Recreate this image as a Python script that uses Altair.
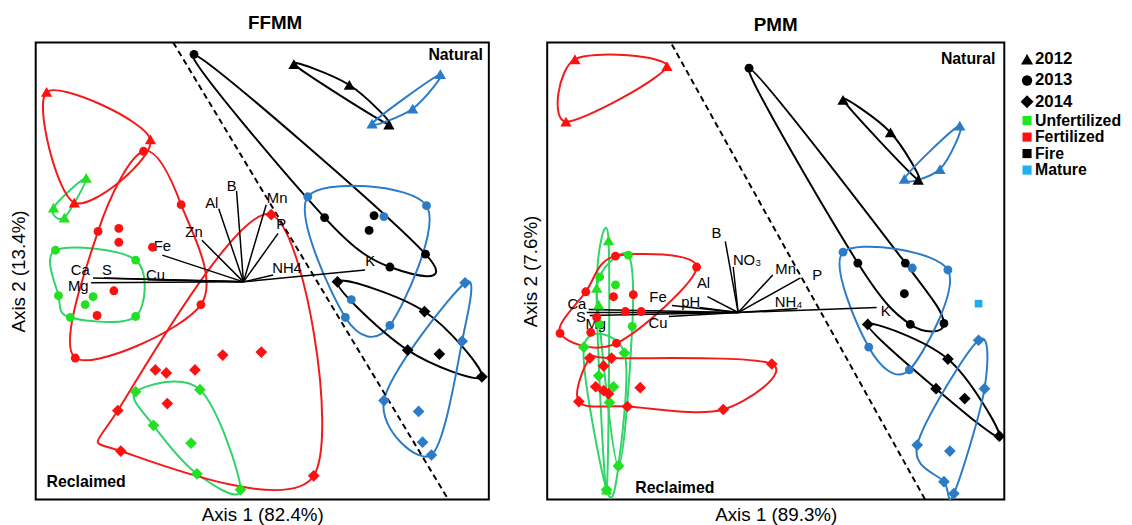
import altair as alt
import pandas as pd

FONT = "Liberation Sans"

TREATMENTS = ["Unfertilized", "Fertilized", "Fire", "Mature"]
YEARS = ["2012", "2013", "2014"]
POINT_COLORS = ["#22e022", "#ff1010", "#000000", "#2b7bc6"]
HULL_COLORS = ["#30d468", "#f21a1a", "#000000", "#2b7bc6"]
YEAR_SHAPES = ["triangle-up", "circle", "diamond"]
YEAR_SIZES = [130, 80, 140]
LEGEND_SIZES = [150, 110, 170]

# ---------------- FFMM sample scores (picture units: x right, y down) ----------------
FF_UNF_2012 = [(86, 172), (53, 202), (64, 212)]
FF_FER_2012 = [(46, 85), (151, 133), (74, 197)]
FF_FIR_2012 = [(296, 57), (352, 78), (392, 118)]
FF_MAT_2012 = [(444, 67), (416, 102), (375, 117)]
FF_UNF_2013 = [(55, 245), (136, 255), (58, 291), (70, 313), (136, 312), (93, 292), (85, 300)]
FF_FER_2013 = [(144, 145), (182, 199), (98, 226), (119, 223), (119, 237), (153, 242),
               (202, 300), (75, 354), (114, 286), (97, 311)]
FF_FIR_2013 = [(195, 47), (327, 212), (377, 210), (372, 225), (429, 249), (393, 262)]
FF_MAT_2013 = [(310, 191), (430, 200), (387, 211), (354, 295), (348, 313), (393, 321)]
FF_UNF_2014 = [(136, 388), (201, 386), (154, 422), (192, 440), (198, 471), (242, 487)]
FF_FER_2014 = [(273, 209), (224, 351), (263, 348), (156, 366), (167, 369), (196, 366),
               (118, 407), (168, 400), (121, 448), (316, 473)]
FF_FIR_2014 = [(340, 277), (428, 307), (411, 346), (443, 350), (486, 373)]
FF_MAT_2014 = [(469, 278), (466, 337), (387, 397), (422, 408), (426, 439), (435, 452)]

FF_VEC_NAMES = ["Ca", "S", "Mg", "Cu", "Fe", "Zn", "Al", "B", "Mn", "P", "NH4", "K"]
FF_VEC_ENDS = [(93, 273), (104, 273), (91, 278), (148, 275), (163, 250), (203, 235),
               (220, 203), (238, 185), (268, 199), (280, 228), (275, 270), (368, 265)]
FF_VEC_LABELS = [(80, 265), (107, 265), (78, 281), (156, 270), (163, 241), (195, 227),
                 (213, 197), (233, 180), (279, 192), (283, 219), (289, 263), (373, 256)]
FF_ORIGIN = (245, 277)
FF_DASH = [(174, 35), (452, 497)]

# ---------------- PMM sample scores ----------------
PM_UNF_2012 = [(612, 235), (600, 283), (602, 300), (610, 487)]
PM_FER_2012 = [(578, 52), (671, 59), (569, 115)]
PM_FIR_2012 = [(849, 93), (897, 126), (925, 174)]
PM_MAT_2012 = [(967, 119), (947, 163), (911, 173)]
PM_UNF_2013 = [(632, 250), (603, 272), (619, 280), (603, 320), (636, 322), (622, 463)]
PM_FER_2013 = [(619, 251), (701, 262), (589, 287), (617, 292), (637, 290), (600, 313),
               (629, 307), (645, 307), (563, 329), (594, 328), (620, 339)]
PM_FIR_2013 = [(754, 61), (864, 258), (912, 258), (911, 289), (917, 320), (951, 319)]
PM_MAT_2013 = [(849, 247), (955, 265), (919, 263), (875, 343), (916, 366)]
PM_UNF_2014 = [(587, 343), (628, 349), (602, 372), (617, 383), (613, 399), (622, 463), (610, 487)]
PM_FER_2014 = [(593, 354), (607, 362), (615, 354), (777, 360), (599, 383), (607, 387),
               (612, 390), (644, 384), (582, 398), (631, 403), (728, 406)]
PM_FIR_2014 = [(874, 320), (955, 355), (943, 385), (972, 395), (1007, 433)]
PM_MAT_2014 = [(986, 336), (992, 385), (924, 442), (957, 448), (951, 479), (961, 491)]
PM_MAT_OTHER = [(986, 299)]

PM_VEC_NAMES = ["Ca", "S", "Mg", "Cu", "Fe", "pH", "Al", "B", "NO\u2083", "Mn", "P", "NH\u2084", "K"]
PM_VEC_ENDS = [(592, 305), (590, 308), (593, 311), (673, 312), (676, 301), (704, 303),
               (712, 292), (730, 236), (738, 262), (778, 270), (806, 273), (803, 304), (883, 303)]
PM_VEC_LABELS = [(580, 299), (584, 313), (599, 320), (662, 319), (662, 292), (695, 297),
                 (708, 278), (721, 228), (752, 255), (791, 264), (823, 270), (794, 297), (892, 307)]
PM_ORIGIN = (743, 308)
PM_DASH = [(676, 37), (932, 497)]

LEGEND_TREAT_COLORS = ["#1ee81e", "#ff1010", "#000000", "#1fb0ef"]


def convex_hull(points):
    pts = sorted(set(points))
    if len(pts) <= 2:
        return pts

    def cross(o, a, b):
        return (a[0] - o[0]) * (b[1] - o[1]) - (a[1] - o[1]) * (b[0] - o[0])

    lower, upper = [], []
    for p in pts:
        while len(lower) >= 2 and cross(lower[-2], lower[-1], p) <= 0:
            lower.pop()
        lower.append(p)
    for p in reversed(pts):
        while len(upper) >= 2 and cross(upper[-2], upper[-1], p) <= 0:
            upper.pop()
        upper.append(p)
    return lower[:-1] + upper[:-1]


def panel(groups, vec_names, vec_ends, vec_labels, origin, dash, natural, reclaimed,
          xdom, ydom, width, height, title, title_dx, xtitle, ytitle, extra=None):
    pts, hulls = [], []
    for treat, year, plist in groups:
        gid = treat + "-" + year
        for (px, py) in plist:
            pts.append(dict(x=px, y=py, treatment=treat, year=year))
        for i, (px, py) in enumerate(convex_hull(plist)):
            hulls.append(dict(x=px, y=py, treatment=treat, group=gid, idx=i))
    pts = pd.DataFrame(pts)
    hulls = pd.DataFrame(hulls)
    vecs = pd.DataFrame(dict(name=vec_names,
                             x0=[origin[0]] * len(vec_names), y0=[origin[1]] * len(vec_names),
                             x1=[e[0] for e in vec_ends], y1=[e[1] for e in vec_ends],
                             lx=[l[0] for l in vec_labels], ly=[l[1] for l in vec_labels]))
    dash_df = pd.DataFrame(dict(x=[d[0] for d in dash], y=[d[1] for d in dash]))

    xs = alt.Scale(domain=xdom, nice=False, zero=False)
    ys = alt.Scale(domain=ydom, nice=False, zero=False)
    common_axis = dict(ticks=False, labels=False, domain=False, grid=False,
                       titleFont=FONT, titleFontSize=19, titleFontWeight="normal",
                       titleColor="black")
    xa = alt.Axis(title=xtitle, titlePadding=6, **common_axis)
    ya = alt.Axis(title=ytitle, titlePadding=7, **common_axis)

    def X(f):
        return alt.X(f, type="quantitative", scale=xs, axis=xa)

    def Y(f):
        return alt.Y(f, type="quantitative", scale=ys, axis=ya)

    hull_layer = alt.Chart(hulls).mark_line(interpolate="cardinal-closed", strokeWidth=2).encode(
        x=X("x"), y=Y("y"),
        stroke=alt.Stroke("treatment:N", scale=alt.Scale(domain=TREATMENTS, range=HULL_COLORS), legend=None),
        detail="group:N", order=alt.Order("idx:Q"))

    dash_layer = alt.Chart(dash_df).mark_line(color="black", strokeWidth=2, strokeDash=[6, 4]).encode(
        x=X("x"), y=Y("y"))

    vec_layer = alt.Chart(vecs).mark_rule(color="black", strokeWidth=1.5).encode(
        x=X("x0"), y=Y("y0"), x2="x1", y2="y1")

    vec_text = alt.Chart(vecs).mark_text(font=FONT, fontSize=15, color="black",
                                         align="center", baseline="middle").encode(
        x=X("lx"), y=Y("ly"), text="name:N")

    pt_layers = []
    for yr, shp, sz in zip(YEARS, YEAR_SHAPES, YEAR_SIZES):
        pt_layers.append(
            alt.Chart(pts).transform_filter(alt.datum.year == yr)
            .mark_point(filled=True, opacity=1, shape=shp, size=sz).encode(
                x=X("x"), y=Y("y"),
                color=alt.Color("treatment:N", scale=alt.Scale(domain=TREATMENTS, range=POINT_COLORS),
                                legend=None)))

    nat = pd.DataFrame(dict(label=["Natural"], x=[natural[0]], y=[natural[1]]))
    rec = pd.DataFrame(dict(label=["Reclaimed"], x=[reclaimed[0]], y=[reclaimed[1]]))
    nat_layer = alt.Chart(nat).mark_text(font=FONT, fontSize=16, fontWeight="bold", color="black",
                                         align="right", baseline="middle").encode(
        x=X("x"), y=Y("y"), text="label:N")
    rec_layer = alt.Chart(rec).mark_text(font=FONT, fontSize=16, fontWeight="bold", color="black",
                                         align="left", baseline="middle").encode(
        x=X("x"), y=Y("y"), text="label:N")

    layers = [hull_layer, dash_layer, vec_layer, vec_text, nat_layer, rec_layer] + pt_layers
    if extra is not None:
        ex = pd.DataFrame(dict(x=[e[0] for e in extra], y=[e[1] for e in extra]))
        layers.append(alt.Chart(ex).mark_point(filled=True, shape="square", size=60,
                                               color="#22aaee", opacity=1).encode(x=X("x"), y=Y("y")))

    return alt.layer(*layers).properties(
        width=width, height=height,
        title=alt.TitleParams(text=title, font=FONT, fontSize=19, fontWeight="bold", color="black",
                              dx=title_dx, offset=6, anchor="middle"),
        view=alt.ViewBackground(stroke="black", strokeWidth=2),
    )


ff_groups = [
    ("Unfertilized", "2012", FF_UNF_2012), ("Fertilized", "2012", FF_FER_2012),
    ("Fire", "2012", FF_FIR_2012), ("Mature", "2012", FF_MAT_2012),
    ("Unfertilized", "2013", FF_UNF_2013), ("Fertilized", "2013", FF_FER_2013),
    ("Fire", "2013", FF_FIR_2013), ("Mature", "2013", FF_MAT_2013),
    ("Unfertilized", "2014", FF_UNF_2014), ("Fertilized", "2014", FF_FER_2014),
    ("Fire", "2014", FF_FIR_2014), ("Mature", "2014", FF_MAT_2014),
]
pm_groups = [
    ("Unfertilized", "2012", PM_UNF_2012), ("Fertilized", "2012", PM_FER_2012),
    ("Fire", "2012", PM_FIR_2012), ("Mature", "2012", PM_MAT_2012),
    ("Unfertilized", "2013", PM_UNF_2013), ("Fertilized", "2013", PM_FER_2013),
    ("Fire", "2013", PM_FIR_2013), ("Mature", "2013", PM_MAT_2013),
    ("Unfertilized", "2014", PM_UNF_2014), ("Fertilized", "2014", PM_FER_2014),
    ("Fire", "2014", PM_FIR_2014), ("Mature", "2014", PM_MAT_2014),
]

p1 = panel(ff_groups, FF_VEC_NAMES, FF_VEC_ENDS, FF_VEC_LABELS, FF_ORIGIN, FF_DASH,
           (487, 48), (46, 479), [35, 493], [497, 35], 458, 462,
           "FFMM", 13, "Axis 1 (82.4%)", "Axis 2 (13.4%)")
p2 = panel(pm_groups, PM_VEC_NAMES, PM_VEC_ENDS, PM_VEC_LABELS, PM_ORIGIN, PM_DASH,
           (1003, 52), (639, 485), [550, 1012], [497, 35], 462, 462,
           "PMM", 0, "Axis 1 (89.3%)", "Axis 2 (7.6%)", extra=PM_MAT_OTHER)

# ---------------- legend panel ----------------
yr_df = pd.DataFrame(dict(item=YEARS))
tr_df = pd.DataFrame(dict(item=TREATMENTS))
yr_y = alt.Y("item:N", sort=YEARS, axis=None, scale=alt.Scale(type="point", range=[17, 60], padding=0))
tr_y = alt.Y("item:N", sort=TREATMENTS, axis=None, scale=alt.Scale(type="point", range=[79, 129], padding=0))
yr_layers = []
for yr, shp, sz in zip(YEARS, YEAR_SHAPES, LEGEND_SIZES):
    yr_layers.append(alt.Chart(yr_df).mark_point(filled=True, color="black", opacity=1,
                                                 shape=shp, size=sz).encode(
        x=alt.value(10), y=yr_y, opacity=alt.condition(alt.datum.item == yr, alt.value(1), alt.value(0))))
yr_txt = alt.Chart(yr_df).mark_text(font=FONT, fontSize=17, fontWeight="bold", color="black",
                                    align="left", baseline="middle").encode(
    x=alt.value(18), y=yr_y, text="item:N")
tr_pts = alt.Chart(tr_df).mark_point(filled=True, shape="square", size=85, opacity=1).encode(
    x=alt.value(10), y=tr_y,
    color=alt.Color("item:N", scale=alt.Scale(domain=TREATMENTS, range=LEGEND_TREAT_COLORS), legend=None))
tr_txt = alt.Chart(tr_df).mark_text(font=FONT, fontSize=16, fontWeight="bold", color="black",
                                    align="left", baseline="middle").encode(
    x=alt.value(18), y=tr_y, text="item:N")
leg = alt.layer(alt.layer(*yr_layers, yr_txt), alt.layer(tr_pts, tr_txt)).resolve_scale(
    y="independent", color="independent"
).properties(width=95, height=462,
             title=alt.TitleParams(text=" ", font=FONT, fontSize=19, offset=6))

res = dict(x="independent", y="independent", color="independent", stroke="independent")
inner = alt.hconcat(p1, p2, spacing=31).resolve_scale(**res)
chart = alt.hconcat(inner, leg, spacing=10).resolve_scale(**res).properties(
    padding={"left": 1, "top": 2, "right": 2, "bottom": 2},
    background="white",
).configure_view(stroke="transparent")

chart.save("out.html", embed_options={"renderer": "svg", "actions": False})
